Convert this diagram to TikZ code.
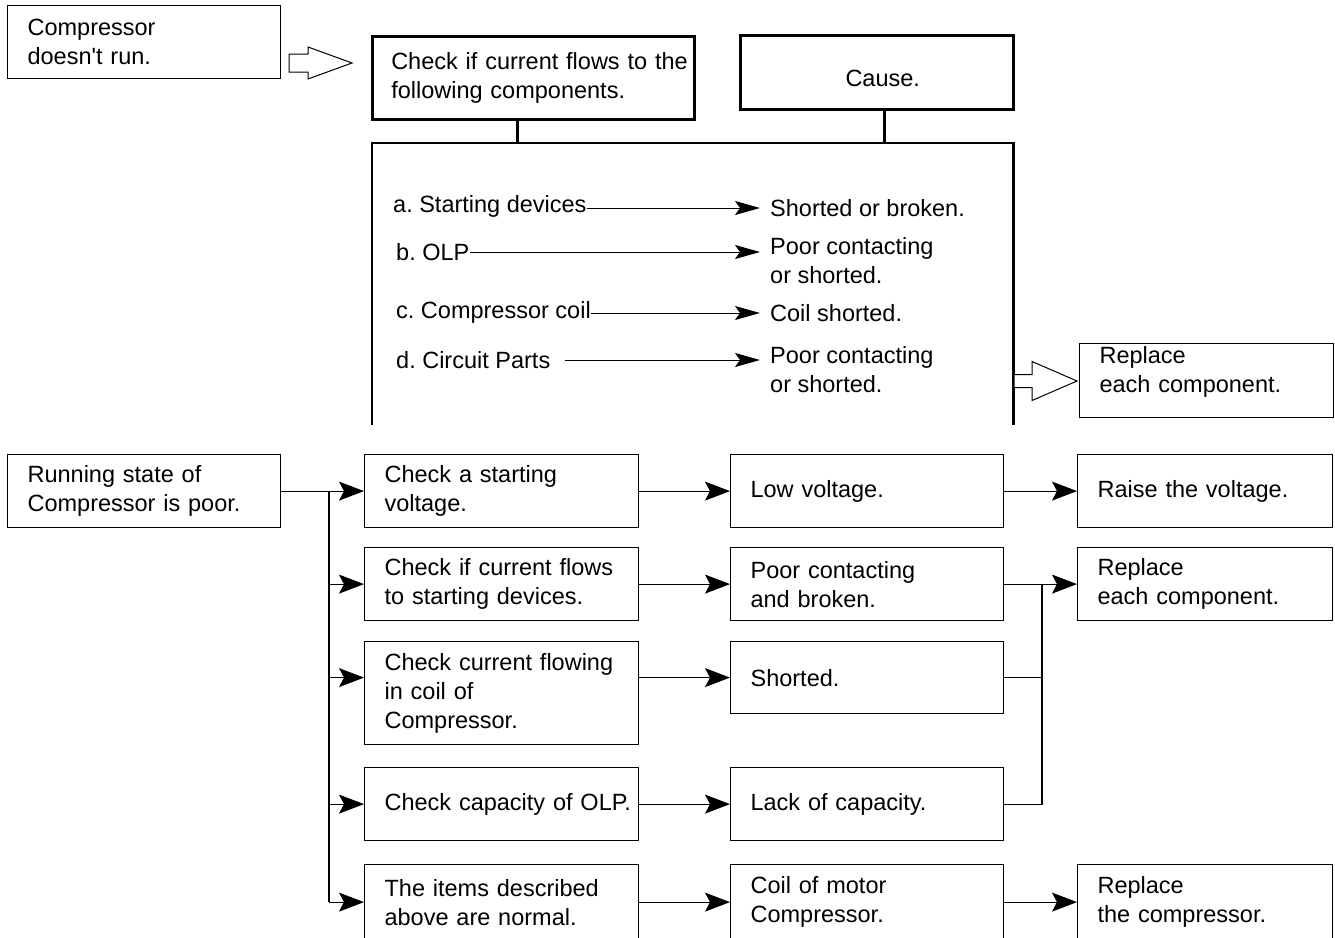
\documentclass[tikz,border=0pt]{standalone}
\usepackage{fontspec}
\setmainfont{Liberation Sans}
\usetikzlibrary{arrows.meta}
\frenchspacing

\begin{document}
\begin{tikzpicture}[x=1pt, y=-1pt,
        every node/.style={font=\fontsize{23.5pt}{29pt}\selectfont},
        box/.style={rectangle, draw=black, line width=1.2pt, anchor=north west, inner xsep=20pt, inner ysep=0pt, align=left, minimum height=73pt},
        heavy/.style={line width=2.5pt},
        panel/.style={rectangle, anchor=north west, inner sep=0pt, minimum width=641pt, minimum height=282pt},
        item/.style={anchor=west, inner sep=0pt},
        cause/.style={anchor=west, inner xsep=10pt, inner ysep=0pt, align=left},
        link/.style={line width=1.2pt},
        arrow/.style={-{Stealth[length=25pt, width=19pt, inset=5pt]}, line width=1.2pt},
        thinarrow/.style={-{Stealth[length=25pt, width=14pt, inset=5pt]}, line width=1pt},
        hollow/.style={draw=black, line width=1pt, fill=white, line join=miter},
    ]

        \path[use as bounding box] (0,0) rectangle (1335,937);
        \clip (0,0) rectangle (1335,937);

        \node[box, text width=233pt] (nostart) at (7,5) {Compressor\\doesn\textquotesingle t run.};
        \node[box, heavy, text width=284pt, inner xsep=19pt, minimum height=83pt] (check) at (371,35) {\mbox{Check if current flows to the}\\following components.};
        \node[box, heavy, text width=233pt, minimum height=74pt, align=center, text height=29pt, text depth=0pt] (causehead) at (739,34) {\hspace*{12pt}Cause.};
        \node[panel] (panel) at (372,143) {};
        \node[box, text width=214pt, minimum height=74pt, text depth=52pt] (fixtop) at (1079,343) {Replace\\each component.};

        \draw[heavy] (panel.south west) |- (panel.north east) -- (panel.south east);
        \draw[heavy] ([xshift=-16pt]check.south) -- ([xshift=-16pt]check.south |- panel.north);
        \draw[heavy] ([xshift=7.5pt]causehead.south) -- ([xshift=7.5pt]causehead.south |- panel.north);

        \coordinate (h1) at (289,63);
        \coordinate (h2) at (1014,381);
        \draw[hollow] (h1) ++(0,-9) -- ++(19,0) -- ++(0,-7) -- ++(44,16) -- ++(-44,16) -- ++(0,-7) -- ++(-19,0) -- cycle;
        \draw[hollow] (h2) ++(0,-6.5) -- ++(18,0) -- ++(0,-13) -- ++(45,19.5) -- ++(-45,19.5) -- ++(0,-13) -- ++(-18,0) -- cycle;

        \node[item] (ia) at (393,206) {a. Starting devices};
        \node[item] (ib) at (396,252) {b. OLP};
        \node[item] (ic) at (396,312) {c. Compressor coil};
        \node[item] (id) at (396,360) {d. Circuit Parts};
        \node[cause] (ca) at (760,208) {Shorted or broken.};
        \node[cause] (cb) at (760,261) {Poor contacting\\or shorted.};
        \node[cause] (cc) at (760,313) {Coil shorted.};
        \node[cause] (cd) at (760,370) {Poor contacting\\or shorted.};

        \draw[thinarrow] (ia.east |- ca.west) -- (ca.west);
        \draw[thinarrow] (ib.east) -- (ib.east -| cb.west);
        \draw[thinarrow] (ic.east |- cc.west) -- (cc.west);
        \draw[thinarrow] ([xshift=14pt]id.east) -- (id.east -| cd.west);

        \node[box, text width=233pt] (run) at (7,454) {Running state of\\Compressor is poor.};
        \node[box, text width=234pt] (chk1) at (364,454) {Check a starting\\voltage.};
        \node[box, text width=234pt] (chk2) at (364,547) {Check if current flows\\to starting devices.};
        \node[box, text width=234pt, minimum height=103pt] (chk3) at (364,641) {Check current flowing\\in coil of\\Compressor.};
        \node[box, text width=234pt] (chk4) at (364,767) {\mbox{Check capacity of OLP.}};
        \node[box, text width=234pt, minimum height=75pt] (chk5) at (364,864) {The items described\\above are normal.};

        \node[box, text width=233pt] (low) at (730,454) {Low voltage.};
        \node[box, text width=233pt] (poor) at (730,547) {Poor contacting\\and broken.};
        \node[box, text width=233pt, minimum height=72pt] (short) at (730,641) {Shorted.};
        \node[box, text width=233pt] (lack) at (730,767) {Lack of capacity.};
        \node[box, text width=233pt, minimum height=75pt] (coil) at (730,864) {Coil of motor\\Compressor.};

        \node[box, text width=215pt] (raise) at (1077,454) {Raise the voltage.};
        \node[box, text width=215pt] (fixall) at (1077,547) {Replace\\each component.};
        \node[box, text width=215pt, minimum height=75pt] (fixcomp) at (1077,864) {Replace\\the compressor.};

        \coordinate (split) at (329,0);
        \coordinate (merge) at (1042,0);

        \draw[link] (run.east) -- (run.east -| split) -- (split |- chk5.west);
        \draw[arrow] (split |- chk1.west) -- (chk1.west);
        \draw[arrow] (split |- chk2.west) -- (chk2.west);
        \draw[arrow] (split |- short.west) -- (chk3.west |- short.west);
        \draw[arrow] (split |- chk4.west) -- (chk4.west);
        \draw[arrow] (split |- chk5.west) -- (chk5.west);

        \draw[arrow] (chk1.east) -- (low.west);
        \draw[arrow] (chk2.east) -- (poor.west);
        \draw[arrow] (chk3.east |- short.west) -- (short.west);
        \draw[arrow] (chk4.east) -- (lack.west);
        \draw[arrow] (chk5.east) -- (coil.west);

        \draw[arrow] (low.east) -- (raise.west);
        \draw[link] (short.east) -- (short.east -| merge);
        \draw[link] (lack.east) -| (poor.east -| merge);
        \draw[arrow] (poor.east) -- (fixall.west);
        \draw[arrow] (coil.east) -- (fixcomp.west);

    \end{tikzpicture}
\end{document}
